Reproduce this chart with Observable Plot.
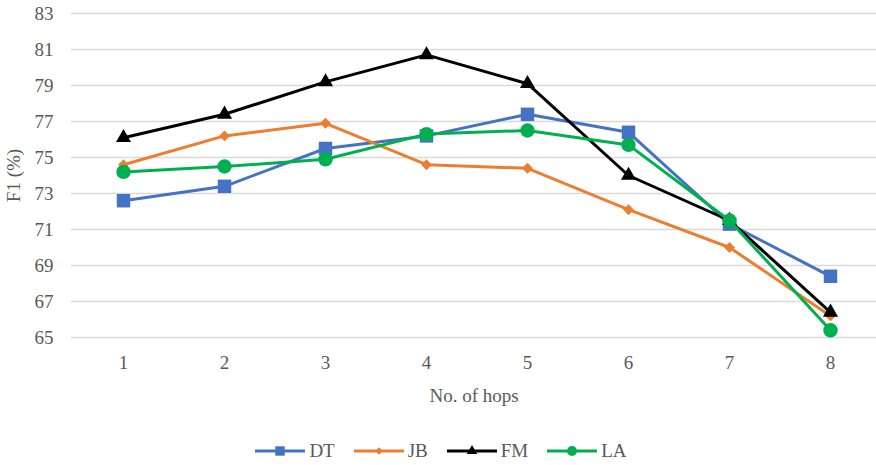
<!DOCTYPE html>
<html><head><meta charset="utf-8">
<script src="https://cdn.jsdelivr.net/npm/d3@7"></script>
<script src="https://cdn.jsdelivr.net/npm/@observablehq/plot@0.6"></script>
<style>
body{margin:0;background:#fff;}
#chart{position:relative;width:876px;height:465px;font-family:"Liberation Serif",serif;}
#legend{position:absolute;top:440px;left:0;width:876px;height:22px;display:flex;justify-content:center;gap:19px;padding-left:6px;box-sizing:border-box;}
.item{display:flex;align-items:center;height:22px;font-size:19px;color:#595959;font-family:"Liberation Serif",serif;}
.item svg{margin-right:4px;}
</style></head><body><div id="chart"></div>
<script>
const hops=[1,2,3,4,5,6,7,8];
const seriesNames=["DT","JB","FM","LA"];
const dtValues=[72.6,73.4,75.5,76.2,77.4,76.4,71.3,68.4];
const jbValues=[74.6,76.2,76.9,74.6,74.4,72.1,70.0,66.2];
const fmValues=[76.1,77.4,79.2,80.7,79.1,74.0,71.5,66.4];
const laValues=[74.2,74.5,74.9,76.3,76.5,75.7,71.5,65.4];
const yTicks=[65,67,69,71,73,75,77,79,81,83];

const colors=["#4472C4","#ED7D31","#000000","#00B050"];
const symbols=["square","diamond2","triangle","circle"];
const radii=[7.6,4.9,5.6,7.2];
const valueLists=[dtValues,jbValues,fmValues,laValues];

const marks=[Plot.ruleY(yTicks,{stroke:"#d9d9d9",strokeWidth:1.3})];
seriesNames.forEach((s,i)=>{
  const d=hops.map((h,j)=>({hop:h,value:valueLists[i][j],series:s}));
  marks.push(Plot.line(d,{x:"hop",y:"value",stroke:colors[i],strokeWidth:3}));
  marks.push(Plot.dot(d,{x:"hop",y:"value",fill:colors[i],stroke:"none",symbol:symbols[i],r:radii[i]}));
});
marks.push(Plot.axisY(yTicks,{tickSize:0,tickPadding:18,label:"F1 (%)",labelAnchor:"center",labelArrow:"none",labelOffset:65}));
marks.push(Plot.axisX({tickSize:0,tickPadding:18,label:"No. of hops",labelAnchor:"center",labelArrow:"none",labelOffset:64}));

const chart=Plot.plot({
  width:876,height:420,
  marginLeft:71,marginRight:0,marginTop:13,marginBottom:83,
  style:{fontFamily:"Liberation Serif, serif",fontSize:"19px",color:"#595959",background:"#fff"},
  x:{type:"point",domain:hops,range:[121,831],padding:0},
  y:{domain:[65,83]},
  marks
});
const root=document.getElementById("chart");
root.appendChild(chart);

const legend=document.createElement("div");
legend.id="legend";
const symMap={square:d3.symbolSquare,diamond2:d3.symbolDiamond2,triangle:d3.symbolTriangle,circle:d3.symbolCircle};
seriesNames.forEach((s,i)=>{
  const item=document.createElement("div");item.className="item";
  const svg=d3.create("svg").attr("width",50).attr("height",22);
  svg.append("line").attr("x1",0).attr("x2",50).attr("y1",11).attr("y2",11).attr("stroke",colors[i]).attr("stroke-width",3);
  const r=radii[i]*0.7;
  svg.append("path").attr("transform","translate(25,11)").attr("d",d3.symbol(symMap[symbols[i]],Math.PI*r*r)()).attr("fill",colors[i]);
  item.appendChild(svg.node());
  const t=document.createElement("span");t.textContent=s;item.appendChild(t);
  legend.appendChild(item);
});
root.appendChild(legend);
</script></body></html>
